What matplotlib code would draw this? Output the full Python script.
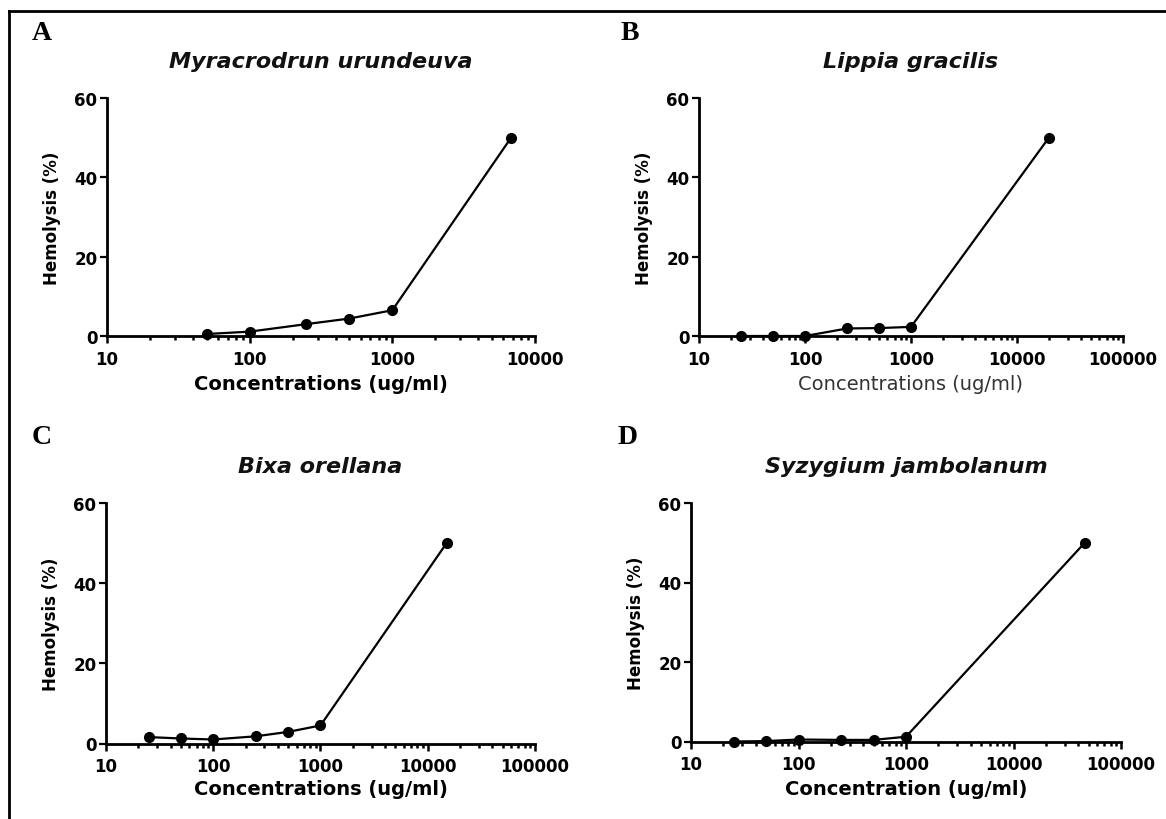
import numpy as np
import matplotlib
matplotlib.use('Agg')
import matplotlib.pyplot as plt
from matplotlib.ticker import LogLocator, FuncFormatter, NullFormatter
from matplotlib.lines import Line2D

# hemolysis data
conc_a = [50, 100, 250, 500, 1000, 6800]
hemo_a = [0.5, 1.1, 3.0, 4.4, 6.5, 50.0]

conc_b = [25, 50, 100, 250, 500, 1000, 20000]
hemo_b = [0.0, 0.0, 0.0, 1.9, 2.0, 2.3, 50.0]

conc_c = [25, 50, 100, 250, 500, 1000, 15000]
hemo_c = [1.6, 1.25, 1.0, 1.8, 2.9, 4.5, 50.0]

conc_d = [25, 50, 100, 250, 500, 1000, 46000]
hemo_d = [0.0, 0.1, 0.5, 0.4, 0.4, 1.2, 50.0]

species = ['Myracrodrun urundeuva', 'Lippia gracilis', 'Bixa orellana', 'Syzygium jambolanum']
letters = ['A', 'B', 'C', 'D']
xlabels = ['Concentrations (ug/ml)', 'Concentrations (ug/ml)',
           'Concentrations (ug/ml)', 'Concentration (ug/ml)']
xmax = [1e4, 1e5, 1e5, 1e5]
yticks = [0, 20, 40, 60]

plt.rcParams['font.family'] = 'DejaVu Sans'

W, H = 1166, 820
fig = plt.figure(figsize=(W / 100, H / 100), dpi=100)

# axes boxes in pixels: left, right, top, bottom
boxes = [(107, 535, 99, 337), (699, 1123, 99, 337),
         (106, 535, 504, 744.5), (691, 1121, 504, 742.5)]
letter_pos = [(42, 34), (630, 34), (42, 438), (628, 438)]
title_y = [62, 62, 467, 467]
xlabel_y = [385, 385, 790, 790]
ylabel_x = [52, 644, 51, 636]

data = [(conc_a, hemo_a), (conc_b, hemo_b), (conc_c, hemo_c), (conc_d, hemo_d)]

for i, (l, r, t, b) in enumerate(boxes):
    ax = fig.add_axes([l / W, 1 - b / H, (r - l) / W, (b - t) / H])
    x, y = data[i]
    ax.plot(x, y, color='black', lw=1.6, marker='o', ms=7, clip_on=False, zorder=5)
    ax.set_xscale('log')
    ax.set_xlim(10, xmax[i])
    ax.set_ylim(0, 60)
    ax.set_yticks(yticks)
    ax.xaxis.set_major_locator(LogLocator(base=10))
    ax.xaxis.set_minor_locator(LogLocator(base=10, subs=np.arange(2, 10)))
    ax.xaxis.set_major_formatter(FuncFormatter(lambda v, p: '%d' % round(v)))
    ax.xaxis.set_minor_formatter(NullFormatter())
    for s in ['top', 'right']:
        ax.spines[s].set_visible(False)
    for s in ['left', 'bottom']:
        ax.spines[s].set_linewidth(2)
    ax.tick_params(axis='y', which='major', length=5, width=1.6, labelsize=12, pad=2)
    ax.tick_params(axis='x', which='major', length=5, width=1.8, labelsize=12, pad=5)
    ax.tick_params(axis='x', which='minor', length=3.2, width=1.8)
    for lab in ax.get_xticklabels() + ax.get_yticklabels():
        lab.set_fontweight('bold')
    h = b - t
    if i == 1:
        ax.set_xlabel(xlabels[i], fontsize=14, color='#333333', va='center')
    else:
        ax.set_xlabel(xlabels[i], fontsize=14, fontweight='bold', va='center')
    ax.xaxis.set_label_coords(0.5, -(xlabel_y[i] - b) / h)
    ax.set_ylabel('Hemolysis (%)', fontsize=12, fontweight='bold', va='center')
    ax.yaxis.set_label_coords((ylabel_x[i] - l) / (r - l), 0.5)
    ax.text(0.5, 1 + (t - title_y[i]) / h, species[i], transform=ax.transAxes,
            ha='center', va='center', fontsize=16, fontweight='bold',
            fontstyle='italic', color='#111111')
    lx, ly = letter_pos[i]
    fig.text(lx / W, 1 - ly / H, letters[i], ha='center', va='center',
             fontsize=20, fontweight='bold', family='Liberation Serif')

# frame lines along top and left edge
fig.add_artist(Line2D([9 / W, 1], [1 - 12 / H, 1 - 12 / H], color='black', lw=2))
fig.add_artist(Line2D([9 / W, 9 / W], [0, 1 - 12 / H], color='black', lw=2))

fig.savefig('out.png', dpi=100)
